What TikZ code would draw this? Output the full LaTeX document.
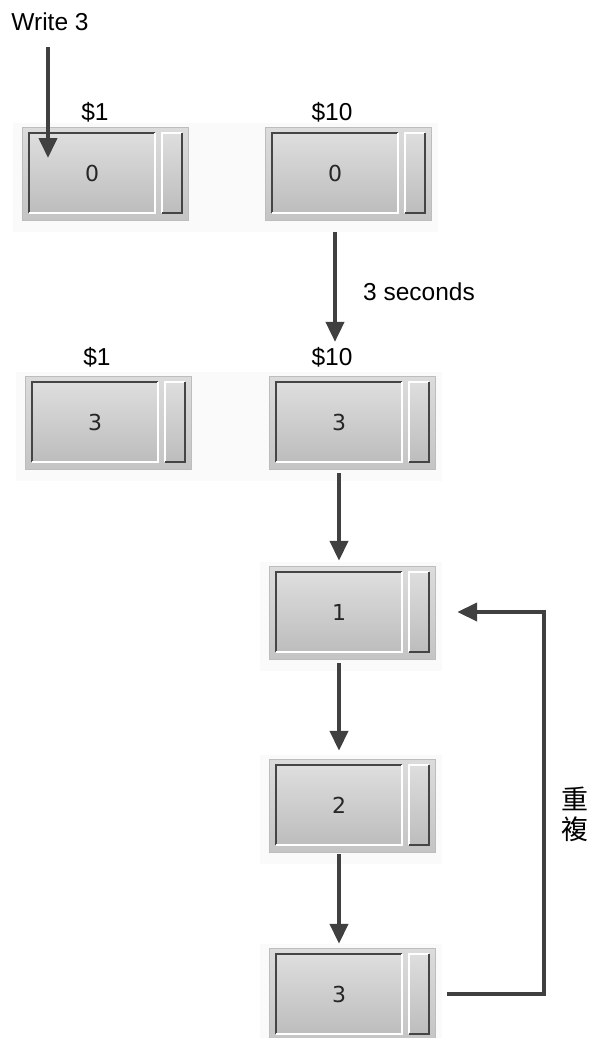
\documentclass[tikz,border=0pt]{standalone}
\usepackage{fontspec}
\setmainfont{Liberation Sans}
\newfontfamily\guifont{DejaVu Sans}
\newfontfamily\cjk{Noto Sans CJK TC}
\usetikzlibrary{arrows.meta,backgrounds,calc}
\definecolor{arrowgray}{HTML}{404040}
\definecolor{edgedark}{HTML}{454545}
\definecolor{frameline}{HTML}{BDBDBD}

\begin{document}
\begin{tikzpicture}[x=1pt, y=-1pt,
    field/.style={minimum width=126pt, minimum height=80pt, inner sep=0pt,
      top color=black!13, bottom color=black!26,
      font=\guifont\fontsize{22}{26}\selectfont, text=black!85},
    caption/.style={inner sep=2pt, font=\fontsize{24.5}{28}\selectfont},
    flow/.style={draw=arrowgray, line width=4pt, -{Triangle[length=20pt,width=18pt]}},
  ]
  \useasboundingbox (0,0) rectangle (591,1038);

  \node[caption] (wr) at (50,22) {Write 3};
  \node[caption] (lw1) at (95,112) {\$1};
  \node[caption] (lw10) at (332,112) {\$10};
  \node[field] (w1) at (92,173) {0};
  \node[field] (w10) at (335,173) {0};

  \node[caption, anchor=west] (wait) at (361,292) {3 seconds};

  \node[caption] (lr1) at (97,357) {\$1};
  \node[caption] (lr10) at (332,357) {\$10};
  \node[field] (r1) at (95,422) {3};
  \node[field] (r10) at (339,422) {3};

  \node[field] (s1) at (339,612) {1};
  \node[field] (s2) at (339,805) {2};
  \node[field] (s3) at (339,994) {3};

  \node[font=\cjk\fontsize{27}{30}\selectfont, align=center] (rep) at (575,814) {重\\複};

  % frames behind the fields
  \begin{scope}[on background layer]
    \fill[black!2] ($(w1.south west)+(-16pt,-19pt)$) rectangle ($(w10.north east)+(40pt,10pt)$);
    \fill[black!2] ($(r1.south west)+(-16pt,-19pt)$) rectangle ($(r10.north east)+(40pt,10pt)$);
    \foreach \n in {w1,w10,r1,r10,s1,s2,s3} {
      \fill[black!2] ($(\n.south west)+(-16pt,-19pt)$) rectangle ($(\n.north east)+(40pt,10pt)$);
      \draw[draw=frameline, line width=1pt, top color=black!14, bottom color=black!23]
        ($(\n.south west)+(-6pt,-7pt)$) rectangle ($(\n.north east)+(33pt,5pt)$);
      \path[top color=black!13, bottom color=black!26]
        ($(\n.south east)+(7pt,0pt)$) rectangle ($(\n.north east)+(27pt,0pt)$);
    }
  \end{scope}

  \foreach \n in {w1,w10,r1,r10,s1,s2,s3} {
    \draw[edgedark, line width=2pt] (\n.south west) |- (\n.north east);
    \draw[white, line width=2pt] (\n.south west) -| (\n.north east);
    \draw[white, line width=1.5pt] ($(\n.south east)+(7pt,0pt)$) |- ($(\n.north east)+(27pt,0pt)$);
    \draw[edgedark, line width=2pt] ($(\n.north east)+(27pt,0pt)$) |- ($(\n.south east)+(7pt,0pt)$);
  }

  \coordinate (wtip) at (48,158);
  \draw[flow, shorten <=14pt] (wr.south -| wtip) -- (wtip);
  \draw[flow, shorten <=19pt, shorten >=3pt] (w10.south) -- (w10.south |- lr10.north);
  \draw[flow, shorten <=11pt, shorten >=11pt] (r10) -- (s1);
  \draw[flow, shorten <=11pt, shorten >=14pt] (s1) -- (s2);
  \draw[flow, shorten <=9pt, shorten >=10pt] (s2) -- (s3);
  \draw[flow] ([xshift=45pt]s3.east) -- ++(97,0) |- ([xshift=55pt]s1.east);
\end{tikzpicture}
\end{document}
